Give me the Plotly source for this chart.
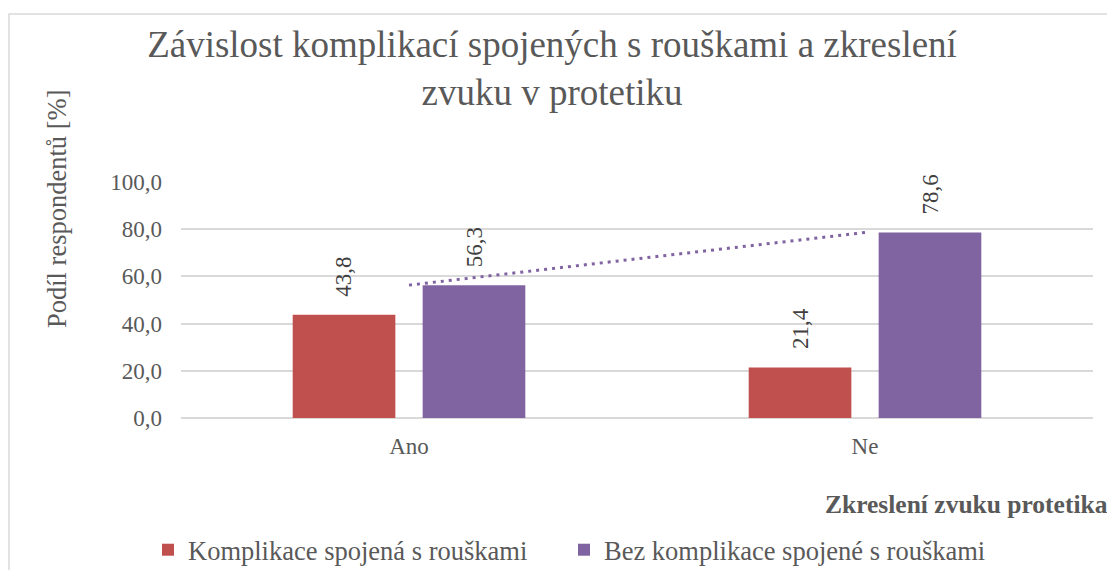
import numpy as np
import plotly.graph_objects as go

categories = ["Ano", "Ne"]
komplikace = [43.8, 21.4]
bez_komplikace = [56.3, 78.6]
series_names = ["Komplikace spojená s rouškami", "Bez komplikace spojené s rouškami"]
title_text = "Závislost komplikací spojených s rouškami a zkreslení<br>zvuku v protetiku"
y_title = "Podíl respondentů [%]"
x_title = "Zkreslení zvuku protetika"

RED = "#C0504D"
PURPLE = "#8064A2"
TXT = "#595959"
FONT = "Liberation Serif, Times New Roman, serif"

# page is offset by the default 8px body margin; keep the figure inside the window
OFF = 8
W, H = 1115 - 2 * OFF, 578 - 2 * OFF
# plot area in page coordinates
PL, PR, PT, PB = 181, 1093, 182, 418
L, R, T, B = PL - OFF, PR - OFF, PT - OFF, PB - OFF


def xp(px):
    return (px - PL) / (PR - PL)


def yp(py):
    return (PB - py) / (PB - PT)


def xc(px):
    return (px - OFF) / W


def yc(py):
    return 1 - (py - OFF) / H


fig = go.Figure()
fig.add_trace(go.Bar(x=categories, y=komplikace, name=series_names[0],
                     legendwidth=371,
                     marker=dict(color=RED, line=dict(width=0))))
fig.add_trace(go.Bar(x=categories, y=bez_komplikace, name=series_names[1],
                     marker=dict(color=PURPLE, line=dict(width=0))))

# linear trendline of the second series
idx = np.arange(len(categories))
coef = np.polyfit(idx, bez_komplikace, 1)
trend = np.polyval(coef, idx)
fig.add_trace(go.Scatter(x=categories, y=trend, mode="lines", showlegend=False,
                         line=dict(color=PURPLE, width=3, dash="3px,5px"),
                         hoverinfo="skip"))

annotations = []
for vals, shift in ((komplikace, -65), (bez_komplikace, 65)):
    for c, v in zip(categories, vals):
        annotations.append(dict(x=c, y=v, xref="x", yref="y", xshift=shift, yshift=16,
                                text=f"{v:.1f}".replace(".", ","), showarrow=False,
                                textangle=-90, xanchor="center", yanchor="bottom",
                                font=dict(family=FONT, size=23, color="#404040")))

annotations.append(dict(x=xp(57), y=yp(209), xref="paper", yref="paper", text=y_title,
                        showarrow=False, textangle=-90, xanchor="center", yanchor="middle",
                        font=dict(family=FONT, size=26.5, color=TXT)))
annotations.append(dict(x=xp(823), y=yp(504), xref="paper", yref="paper",
                        text=f"<b>{x_title}</b>", showarrow=False,
                        xanchor="left", yanchor="middle",
                        font=dict(family=FONT, size=25.5, color=TXT)))

fig.update_layout(
    width=W, height=H,
    margin=dict(l=L, r=W - R, t=T, b=H - B, autoexpand=False),
    paper_bgcolor="white", plot_bgcolor="white",
    separators=", ",
    barmode="group", bargap=0.43, bargroupgap=0.21,
    title=dict(text=title_text, xref="paper", x=xp(552), xanchor="center",
               yref="container", y=yc(57), yanchor="middle",
               font=dict(family=FONT, size=37, color=TXT)),
    font=dict(family=FONT, color=TXT),
    xaxis=dict(showgrid=False, showline=False, zeroline=False, ticks="",
               ticklabelstandoff=12, automargin=False,
               tickfont=dict(family=FONT, size=23, color=TXT)),
    yaxis=dict(range=[0, 100], dtick=20, tickformat=".1f", showgrid=True,
               gridcolor="#D9D9D9", gridwidth=1.5, zeroline=True, zerolinecolor="#D9D9D9",
               zerolinewidth=1.5, showline=False, ticks="", ticklabelstandoff=18,
               automargin=False,
               tickfont=dict(family=FONT, size=23, color=TXT)),
    legend=dict(orientation="h", xref="container", x=xc(148), xanchor="left",
                yref="container", y=yc(550), yanchor="middle",
                font=dict(family=FONT, size=26.5, color=TXT), traceorder="normal",
                bgcolor="rgba(0,0,0,0)"),
    annotations=annotations,
    shapes=[dict(type="rect", xref="paper", yref="paper", x0=xp(9), y0=yp(600),
                 x1=xp(1140), y1=yp(14), line=dict(color="#D9D9D9", width=1.5),
                 fillcolor="rgba(0,0,0,0)", layer="below")],
    showlegend=True,
)

fig.write_html("out.html")
